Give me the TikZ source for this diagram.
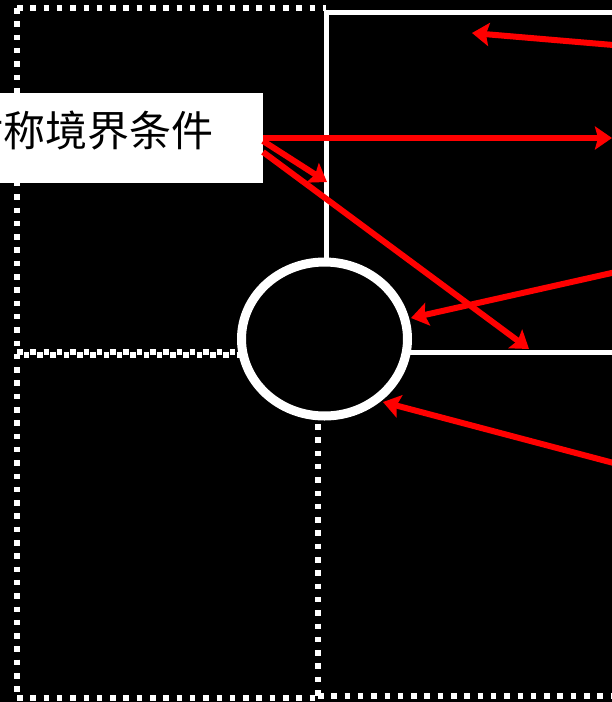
\documentclass[tikz,border=0pt]{standalone}
\usepackage{fontspec}
\newfontfamily\cjk{Noto Sans CJK SC}
\usetikzlibrary{arrows.meta,shapes.geometric}
\begin{document}
\begin{tikzpicture}[x=1pt,y=-1pt,
  dotline/.style={draw=white,line width=5.5pt,dash pattern=on 5.5pt off 7.8pt},
  wallline/.style={draw=white,line width=5pt},
  redarrow/.style={draw=red,line width=6pt,-{Stealth[length=17pt,width=23pt,inset=3pt]}}]
\fill[black] (0,0) rectangle (612,702);
\useasboundingbox (0,0) rectangle (612,702);
\clip (0,0) rectangle (612,702);
% dotted outer region
\draw[dotline] (17,8) -- (326,8);
\draw[dotline] (17,8) -- (17,698);
\draw[dotline] (17,698) -- (318,698);
\draw[dotline] (318,696) -- (620,696);
\draw[dotline] (318,424) -- (318,696);
\draw[dotline] (17,352) -- (240,352);
\draw[dotline,dash phase=6.5pt] (17,355) -- (240,355);
% solid walls
\draw[wallline] (326,258) -- (326,12) -- (620,12);
\draw[wallline] (410,352) -- (620,352);
% circle
\node[draw=white,line width=9pt,ellipse,minimum width=166pt,minimum height=154pt,inner sep=0pt] (circ) at (324.5,339) {};
% label
\node[fill=white,minimum width=350pt,minimum height=90pt,inner sep=0pt] (label) at (88,138) {};
\node[inner sep=0pt,text=black] (labeltext) at (88,131) {\cjk\fontsize{42pt}{42pt}\selectfont 对称境界条件};
% arrow end points
\coordinate (s1) at (625,46);
\coordinate (t1) at (472,33);
\coordinate (t2) at (612,138);
\coordinate (a3) at (263,141);
\coordinate (t3) at (327,182);
\coordinate (a4) at (263,152);
\coordinate (t4) at (529,349);
\coordinate (s5) at (625,270);
\coordinate (t5) at (411,318);
\coordinate (s6) at (625,466);
\coordinate (t6) at (383,402);
\draw[redarrow] (s1) -- (t1);
\draw[redarrow] (label.east) -- (t2);
\draw[redarrow] (a3) -- (t3);
\draw[redarrow] (a4) -- (t4);
\draw[redarrow] (s5) -- (t5);
\draw[redarrow] (s6) -- (t6);
\end{tikzpicture}
\end{document}
